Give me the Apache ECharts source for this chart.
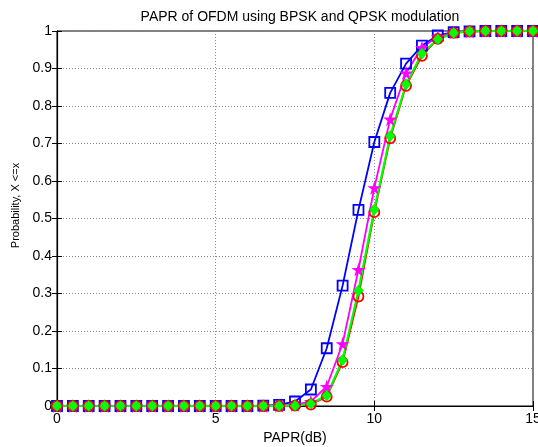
<!DOCTYPE html>
<html>
<head>
<meta charset="utf-8">
<script src="https://cdn.jsdelivr.net/npm/echarts@6/dist/echarts.min.js"></script>
<style>
html,body{margin:0;padding:0;background:#fff;}
#chart{width:538px;height:447px;}
</style>
</head>
<body>
<div id="chart"></div>
<script>
var xValues = [0,0.5,1,1.5,2,2.5,3,3.5,4,4.5,5,5.5,6,6.5,7,7.5,8,8.5,9,9.5,10,10.5,11,11.5,12,12.5,13,13.5,14,14.5,15];
var blueSquare = [0,0,0,0,0,0,0,0,0,0,0,0,0,0.001,0.003,0.012,0.044,0.154,0.321,0.523,0.704,0.835,0.913,0.961,0.988,0.997,0.999,1,1,1,1];
var magentaStar = [0,0,0,0,0,0,0,0,0,0,0,0,0,0,0.001,0.003,0.012,0.052,0.166,0.364,0.582,0.765,0.888,0.956,0.985,0.996,0.999,1,1,1,1];
var redCircle = [0,0,0,0,0,0,0,0,0,0,0,0,0,0,0,0.001,0.004,0.025,0.117,0.292,0.517,0.714,0.854,0.934,0.979,0.995,0.999,1,1,1,1];
var greenDiamond = [0,0,0,0,0,0,0,0,0,0,0,0,0,0,0,0.001,0.006,0.028,0.123,0.308,0.524,0.720,0.858,0.940,0.978,0.995,0.999,1,1,1,1];
var titleText = 'PAPR of OFDM using BPSK and QPSK modulation';
var xName = 'PAPR(dB)';
var yName = 'Probability, X <=x';

function pairs(ys){ return xValues.map(function(x,i){ return [x, ys[i]]; }); }

var font = 'Liberation Sans, Arial, Helvetica, sans-serif';
var star = 'path://M50,0 L61,35 L98,35 L68,57 L79,91 L50,70 L21,91 L32,57 L2,35 L39,35 Z';

var chart = echarts.init(document.getElementById('chart'), null, {renderer:'canvas'});
var gridLine = {show:true, lineStyle:{color:'#8a8a8a', width:1, type:[1,2]}};
chart.setOption({
  animation:false,
  backgroundColor:'#fff',
  title:{text:titleText, left:295, top:5, textAlign:'center',
    textStyle:{fontFamily:font, fontSize:14, fontWeight:'normal', color:'#000'}},
  grid:{left:57, right:5, top:31, bottom:41, show:true, borderColor:'#000', borderWidth:1, backgroundColor:'#fff',
    outerBoundsMode:'none', containLabel:false},
  xAxis:[{
    type:'value', min:0, max:15, interval:5,
    name:xName, nameLocation:'middle', nameGap:23,
    nameTextStyle:{fontFamily:font, fontSize:14, color:'#000'},
    axisLine:{show:true, onZero:false, lineStyle:{color:'#000', width:1.2}},
    axisTick:{show:true, inside:true, length:5, lineStyle:{color:'#000'}},
    axisLabel:{fontFamily:font, fontSize:14, color:'#000', margin:6},
    splitLine:gridLine
  },{
    type:'value', min:0, max:15, interval:5, position:'top',
    axisLine:{show:true, lineStyle:{color:'#000'}},
    axisTick:{show:true, inside:true, length:5, lineStyle:{color:'#000'}},
    axisLabel:{show:false}, splitLine:{show:false}
  }],
  yAxis:[{
    type:'value', min:0, max:1, interval:0.1,
    name:yName, nameLocation:'middle', nameGap:34,
    nameTextStyle:{fontFamily:font, fontSize:11, color:'#000', padding:[0,0,0,26]},
    axisLine:{show:true, onZero:false, lineStyle:{color:'#000', width:1.2}},
    axisTick:{show:true, inside:true, length:5, lineStyle:{color:'#000'}},
    axisLabel:{fontFamily:font, fontSize:14, color:'#000', margin:5},
    splitLine:gridLine
  },{
    type:'value', min:0, max:1, interval:0.1, position:'right',
    axisLine:{show:true, lineStyle:{color:'#000'}},
    axisTick:{show:true, inside:true, length:5, lineStyle:{color:'#000'}},
    axisLabel:{show:false}, splitLine:{show:false}
  }],
  series:[
    {name:'blue', type:'line', data:pairs(blueSquare), clip:false,
     symbol:'rect', symbolSize:10, showAllSymbol:true,
     lineStyle:{color:'#0000ff', width:1.8},
     itemStyle:{color:'rgba(0,0,0,0)', borderColor:'#0000ff', borderWidth:1.8}},
    {name:'magenta', type:'line', data:pairs(magentaStar), clip:false,
     symbol:star, symbolSize:14, showAllSymbol:true,
     lineStyle:{color:'#ff00ff', width:1.8},
     itemStyle:{color:'#ff00ff', borderColor:'#ff00ff', borderWidth:0}},
    {name:'red', type:'line', data:pairs(redCircle), clip:false,
     symbol:'circle', symbolSize:10, showAllSymbol:true,
     lineStyle:{color:'#ff0000', width:1.8},
     itemStyle:{color:'rgba(0,0,0,0)', borderColor:'#ff0000', borderWidth:1.8}},
    {name:'green', type:'line', data:pairs(greenDiamond), clip:false,
     symbol:'diamond', symbolSize:[10,11], showAllSymbol:true,
     lineStyle:{color:'#00ff00', width:2.2},
     itemStyle:{color:'#00ff00', borderColor:'#00cc00', borderWidth:0.5}}
  ]
});
</script>
</body>
</html>
